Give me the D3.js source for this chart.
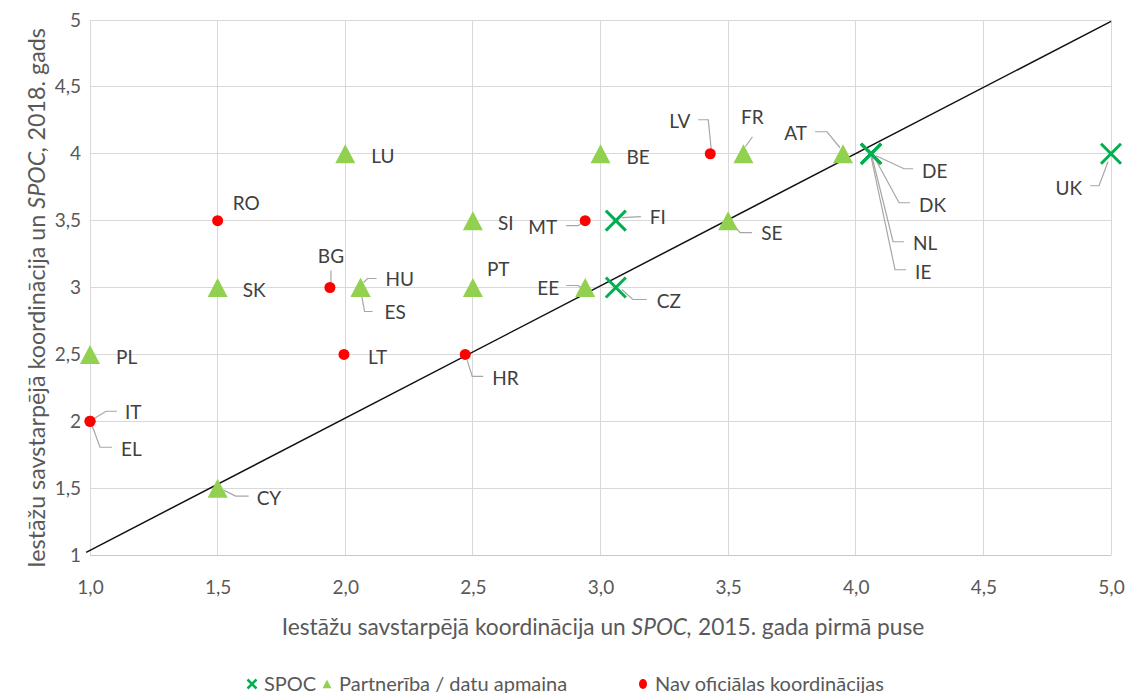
<!DOCTYPE html>
<html>
<head>
<meta charset="utf-8">
<script src="https://cdn.jsdelivr.net/npm/d3@7"></script>
<style>
  body { margin: 0; background: #fff; }
  svg text { font-family: Lato, "Open Sans", sans-serif; }
</style>
</head>
<body>
<svg width="1129" height="693"></svg>
<script>
// series: SPOC
const spocCountries = ["FI", "CZ", "DE", "DK", "NL", "IE", "UK"];
const spocX = [3.06, 3.06, 4.06, 4.06, 4.06, 4.06, 5.0];
const spocY = [3.5, 3.0, 4.0, 4.0, 4.0, 4.0, 4.0];

// series: Partnerība / datu apmaina
const partnerCountries = ["LU", "BE", "FR", "AT", "SI", "SE", "SK", "HU", "ES", "PT", "EE", "PL", "CY"];
const partnerX = [2.0, 3.0, 3.56, 3.95, 2.5, 3.5, 1.5, 2.06, 2.06, 2.5, 2.94, 1.0, 1.5];
const partnerY = [4.0, 4.0, 4.0, 4.0, 3.5, 3.5, 3.0, 3.0, 3.0, 3.0, 3.0, 2.5, 1.5];

// series: Nav oficiālas koordinācijas
const noneCountries = ["RO", "BG", "LT", "HR", "MT", "LV", "IT", "EL"];
const noneX = [1.5, 1.94, 1.995, 2.47, 2.94, 3.43, 1.0, 1.0];
const noneY = [3.5, 3.0, 2.5, 2.5, 3.5, 4.0, 2.0, 2.0];

// reference line
const refLineX = [0.985, 5.0];
const refLineY = [1.02, 4.99];

const xTicks = [1.0, 1.5, 2.0, 2.5, 3.0, 3.5, 4.0, 4.5, 5.0];
const yTicks = [1, 1.5, 2, 2.5, 3, 3.5, 4, 4.5, 5];

const seriesNames = ["SPOC", "Partnerība / datu apmaina", "Nav oficiālas koordinācijas"];

// label placement relative to the marker (pixels), with optional leader line
const labelPos = {
  FI: { dx: 34, dy: -3, leader: [[6, -3], [25, -4]] },
  CZ: { dx: 41, dy: 14, leader: [[6, 2], [17, 12], [31, 12]] },
  DE: { dx: 51, dy: 17, leader: [[5, 2], [33, 15], [42, 15]] },
  DK: { dx: 48, dy: 51, leader: [[3, 3], [28, 49], [39, 49]] },
  NL: { dx: 42, dy: 89, leader: [[1, 3], [22, 88], [33, 88]] },
  IE: { dx: 44, dy: 118, leader: [[0, 3], [24, 116], [35, 116]] },
  UK: { dx: -29, dy: 34, anchor: "end", leader: [[-3, 8], [-12, 32], [-21, 32]] },
  LU: { dx: 26, dy: 2 },
  BE: { dx: 26, dy: 3 },
  FR: { dx: 9, dy: -37, anchor: "middle", leader: [[2, -7], [9, -17]] },
  AT: { dx: -36, dy: -21, anchor: "end", leader: [[-3, -6], [-16, -22], [-28, -22]] },
  SI: { dx: 25, dy: 3 },
  SE: { dx: 33, dy: 13, leader: [[5, 4], [12, 12], [24, 12]] },
  SK: { dx: 25, dy: 3 },
  HU: { dx: 25, dy: -8, leader: [[3, -5], [7, -9], [16, -9]] },
  ES: { dx: 24, dy: 25, leader: [[0, 2], [4, 24], [12, 24]] },
  PT: { dx: 14, dy: -18 },
  EE: { dx: -26, dy: 1, anchor: "end", leader: [[-3, 1], [-7, -2], [-19, -2]] },
  PL: { dx: 26, dy: 3 },
  CY: { dx: 39, dy: 10, leader: [[6, 2], [18, 8], [31, 8]] },
  RO: { dx: 15, dy: -17 },
  BG: { dx: 1, dy: -31, anchor: "middle", leader: [[1, -4], [1, -17]] },
  LT: { dx: 24, dy: 3 },
  HR: { dx: 27, dy: 24, leader: [[2, 6], [7, 22], [18, 22]] },
  MT: { dx: -28, dy: 7, anchor: "end", leader: [[-3, 2], [-7, 5], [-19, 5]] },
  LV: { dx: -20, dy: -33, anchor: "end", leader: [[1, -4], [-2, -34], [-12, -34]] },
  IT: { dx: 35, dy: -9, leader: [[3, -2], [16, -10], [27, -10]] },
  EL: { dx: 31, dy: 28, leader: [[2, 4], [10, 26], [22, 26]] }
};

const svg = d3.select("svg");
const margin = { left: 90, right: 18, top: 20, bottom: 138 };
const W = 1129, H = 693;

const x = d3.scaleLinear().domain([1, 5]).range([margin.left, W - margin.right]);
const y = d3.scaleLinear().domain([1, 5]).range([H - margin.bottom, margin.top]);

const fmt = v => d3.format(".1f")(v).replace(".", ",");
const fmtY = v => String(v).replace(".", ",");

// scale a text's font so it spans a given width
const fitText = (sel, target) => {
  const fs = +sel.attr("font-size");
  const w = sel.node().getComputedTextLength();
  sel.attr("font-size", fs * target / w);
  return sel.node().getComputedTextLength();
};

// grid
svg.append("g").selectAll("line.gx")
  .data(xTicks).join("line")
  .attr("x1", d => x(d)).attr("x2", d => x(d))
  .attr("y1", y(5)).attr("y2", y(1))
  .attr("stroke", "#d9d9d9").attr("stroke-width", 1).attr("shape-rendering", "crispEdges");

svg.append("g").selectAll("line.gy")
  .data(yTicks).join("line")
  .attr("x1", x(1)).attr("x2", x(5))
  .attr("y1", d => y(d)).attr("y2", d => y(d))
  .attr("stroke", d => d === 1 ? "#c8c8c8" : "#d9d9d9").attr("stroke-width", 1).attr("shape-rendering", "crispEdges");

// axes (labels only)
const axisX = d3.axisBottom(x).tickValues(xTicks).tickFormat(fmt).tickSize(0).tickPadding(0);
const gx = svg.append("g").attr("transform", `translate(0, ${y(1)})`).call(axisX);
gx.select(".domain").remove();
gx.selectAll("text").attr("y", 32).attr("dy", "0.36em").attr("fill", "#595959").attr("font-size", 19);

const axisY = d3.axisLeft(y).tickValues(yTicks).tickFormat(fmtY).tickSize(0).tickPadding(9);
const gy = svg.append("g").attr("transform", `translate(${x(1)}, 0)`).call(axisY);
gy.select(".domain").remove();
gy.selectAll("text").attr("fill", "#595959").attr("font-size", 19);

// axis titles
const xt = svg.append("text")
  .attr("y", 627).attr("dy", "0.36em")
  .attr("fill", "#595959").attr("font-size", 19);
xt.append("tspan").text("Iestāžu savstarpējā koordinācija un ");
xt.append("tspan").attr("font-style", "italic").text("SPOC,");
xt.append("tspan").text(" 2015. gada pirmā puse");
const xtLen = fitText(xt, 643);
xt.attr("x", 603 - xtLen / 2);

const yt = svg.append("text")
  .attr("fill", "#595959").attr("font-size", 19);
yt.append("tspan").text("Iestāžu savstarpējā koordinācija un ");
yt.append("tspan").attr("font-style", "italic").text("SPOC,");
yt.append("tspan").text("  2018. gads");
const ytLen = fitText(yt, 540);
yt.attr("transform", `translate(45, ${298 + ytLen / 2}) rotate(-90)`);

// reference line
const line = d3.line().x(d => x(d[0])).y(d => y(d[1]));
svg.append("path")
  .datum(refLineX.map((v, i) => [v, refLineY[i]]))
  .attr("d", line)
  .attr("stroke", "#111").attr("stroke-width", 1.5).attr("fill", "none");

const toPoints = (names, xs, ys) => names.map((n, i) => ({ name: n, x: xs[i], y: ys[i] }));
const spoc = toPoints(spocCountries, spocX, spocY);
const partner = toPoints(partnerCountries, partnerX, partnerY);
const none = toPoints(noneCountries, noneX, noneY);

// leader lines
const allPts = spoc.concat(partner, none);
svg.append("g").selectAll("path")
  .data(allPts.filter(d => labelPos[d.name] && labelPos[d.name].leader))
  .join("path")
  .attr("d", d => {
    const px = x(d.x), py = y(d.y);
    return "M" + labelPos[d.name].leader.map(p => [px + p[0], py + p[1]].join(",")).join("L");
  })
  .attr("fill", "none").attr("stroke", "#a6a6a6").attr("stroke-width", 1.2);

// markers
const triPath = s => `M0,${-0.95 * s}L${s},${0.95 * s}L${-s},${0.95 * s}Z`;
const xPath = s => `M${-s},${-s}L${s},${s}M${-s},${s}L${s},${-s}`;

svg.append("g").selectAll("path")
  .data(partner).join("path")
  .attr("transform", d => `translate(${x(d.x)}, ${y(d.y)})`)
  .attr("d", triPath(10))
  .attr("fill", "#92d050");

svg.append("g").selectAll("circle")
  .data(none).join("circle")
  .attr("cx", d => x(d.x)).attr("cy", d => y(d.y)).attr("r", 5.5)
  .attr("fill", "#ff0000");

svg.append("g").selectAll("path")
  .data(spoc).join("path")
  .attr("transform", d => `translate(${x(d.x)}, ${y(d.y)})`)
  .attr("d", xPath(10))
  .attr("stroke", "#00b050").attr("stroke-width", 3).attr("fill", "none");

// data labels
svg.append("g").selectAll("text")
  .data(allPts).join("text")
  .attr("x", d => x(d.x) + labelPos[d.name].dx)
  .attr("y", d => y(d.y) + labelPos[d.name].dy)
  .attr("dy", "0.36em")
  .attr("text-anchor", d => labelPos[d.name].anchor || "start")
  .attr("fill", "#404040").attr("font-size", 19)
  .text(d => d.name);

// legend
const legendX = [252, 327, 643];
const lg = svg.append("g").attr("transform", "translate(0, 684)");
lg.append("path").attr("transform", `translate(${legendX[0]}, 0)`).attr("d", xPath(4.5))
  .attr("stroke", "#00b050").attr("stroke-width", 2.5).attr("fill", "none");
lg.append("path").attr("transform", `translate(${legendX[1]}, 0)`).attr("d", triPath(4.5))
  .attr("fill", "#92d050");
lg.append("ellipse").attr("cx", legendX[2]).attr("cy", 0).attr("rx", 4).attr("ry", 5)
  .attr("fill", "#ff0000");
lg.selectAll("text.lt")
  .data(seriesNames).join("text")
  .attr("x", (d, i) => legendX[i] + 12)
  .attr("y", 0).attr("dy", "0.36em")
  .attr("fill", "#595959").attr("font-size", 20)
  .text(d => d);
</script>
</body>
</html>
